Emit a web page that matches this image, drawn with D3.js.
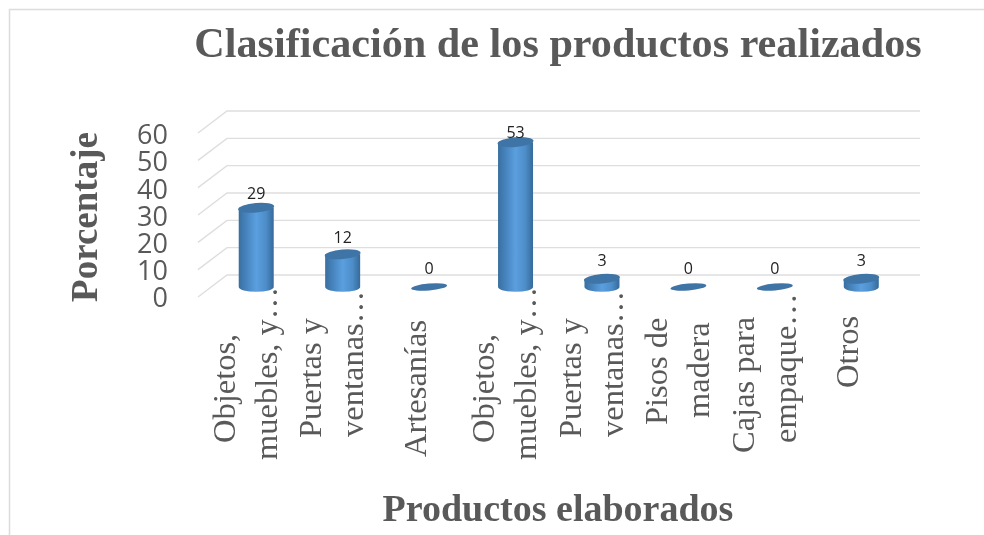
<!DOCTYPE html>
<html><head><meta charset="utf-8">
<script src="https://cdn.jsdelivr.net/npm/d3@7"></script>
<style>html,body{margin:0;padding:0;background:#fff;overflow:hidden}svg{display:block;filter:blur(.45px)}
text{font-family:"Liberation Serif",serif;fill:#595959}</style></head><body>
<svg id="c" width="984" height="535"></svg>
<script>
const chartTitle = "Clasificación de los productos realizados";
const yTitle = "Porcentaje";
const xTitle = "Productos elaborados";
const categories = [
  ["Objetos,", "muebles, y…"],
  ["Puertas y", "ventanas…"],
  ["Artesanías"],
  ["Objetos,", "muebles, y…"],
  ["Puertas y", "ventanas…"],
  ["Pisos de", "madera"],
  ["Cajas para", "empaque…"],
  ["Otros"]
];
const values = [29, 12, 0, 53, 3, 0, 0, 3];
const yTicks = [0, 10, 20, 30, 40, 50, 60];

// layout only: where each wrapped label line begins (rotated text, lower end)
const labelStart = [[443, 460], [438, 437], [457], [443, 460], [438, 437], [425, 418], [453, 443], [388]];

const svg = d3.select("#c");
const defs = svg.append("defs");
const g = defs.append("linearGradient").attr("id", "cyl");
[[0, "#3a6f9f"], [.18, "#4480b8"], [.5, "#5b9fe0"], [.78, "#4d8dc8"], [1, "#366a99"]]
  .forEach(d => g.append("stop").attr("offset", d[0]).attr("stop-color", d[1]));

svg.append("path").attr("d", "M9.5 535V9.5H984").attr("fill", "none").attr("stroke", "#dcdcdc").attr("stroke-width", 1.5);

const yBack = d3.scaleLinear().domain([0, 60]).range([275, 111]);
const yFront = d3.scaleLinear().domain([0, 60]).range([297, 134]);
const yBar = d3.scaleLinear().domain([0, 60]).range([287, 123]);
const yLabel = d3.scaleLinear().domain([0, 60]).range([268, 114]);
const x = d3.scaleBand().domain(d3.range(categories.length)).range([213, 904.5]);
const barW = 35, ry = 4.8;
const dx = 29, dy = 22;

svg.append("g").selectAll("path").data(yTicks).join("path")
  .attr("d", d => `M${227 - dx} ${yBack(d) + dy}L227 ${yBack(d)}H920`)
  .attr("fill", "none").attr("stroke", "#dedede").attr("stroke-width", 1.4);

const yAxis = svg.append("g").attr("transform", "translate(168,0)")
  .call(d3.axisLeft(yFront).tickValues(yTicks).tickSize(0).tickPadding(0));
yAxis.select(".domain").remove();
yAxis.selectAll("text").style("font-family", "'Open Sans',sans-serif").style("font-size", "27px")
  .attr("dy", ".36em");

const bars = svg.append("g").selectAll("g").data(values).join("g")
  .attr("transform", (d, i) => `translate(${x(i) + x.bandwidth() / 2},0)`);
bars.filter(d => d > 0).append("path")
  .attr("d", d => {
    const t = yBar(d), b = yBar(0), r = barW / 2;
    return `M${-r} ${t}V${b}A${r} ${ry} 0 0 0 ${r} ${b}V${t}Z`;
  })
  .attr("fill", "url(#cyl)");
bars.append("ellipse")
  .attr("transform", d => `translate(0,${yBar(d)}) rotate(-5)`)
  .attr("rx", barW / 2 + .5).attr("ry", d => d > 0 ? ry : 3.4)
  .attr("fill", "#3f74a6");

svg.append("g").selectAll("text").data(values).join("text")
  .attr("x", (d, i) => x(i) + x.bandwidth() / 2)
  .attr("y", d => yLabel(d))
  .attr("dy", ".36em")
  .attr("text-anchor", "middle")
  .style("font-family", "'Open Sans',sans-serif")
  .style("font-size", "16px")
  .style("fill", "#222")
  .text(d => d);

const labels = svg.append("g").selectAll("g").data(categories).join("g")
  .attr("transform", (d, i) => `translate(${x(i) + x.bandwidth() / 2},0)`);
labels.selectAll("text")
  .data((d, c) => d.map((t, i) => ({ t, i, n: d.length, start: labelStart[c][i] })))
  .join("text")
  .attr("transform", d => `translate(${d.n === 1 ? -14 : (d.i === 0 ? -32 : 10)},${d.start}) rotate(-90)`)
  .attr("text-anchor", "start")
  .attr("dy", ".33em")
  .style("font-size", "32.5px")
  .text(d => d.t);

svg.append("text").attr("x", 558).attr("y", 57).attr("text-anchor", "middle")
  .style("font-size", "42.2px").style("font-weight", "bold").text(chartTitle);
svg.append("text").attr("transform", "translate(97,217) rotate(-90)").attr("text-anchor", "middle")
  .style("font-size", "37px").style("font-weight", "bold").text(yTitle);
svg.append("text").attr("x", 558).attr("y", 521).attr("text-anchor", "middle")
  .style("font-size", "38px").style("font-weight", "bold").text(xTitle);
</script></body></html>
